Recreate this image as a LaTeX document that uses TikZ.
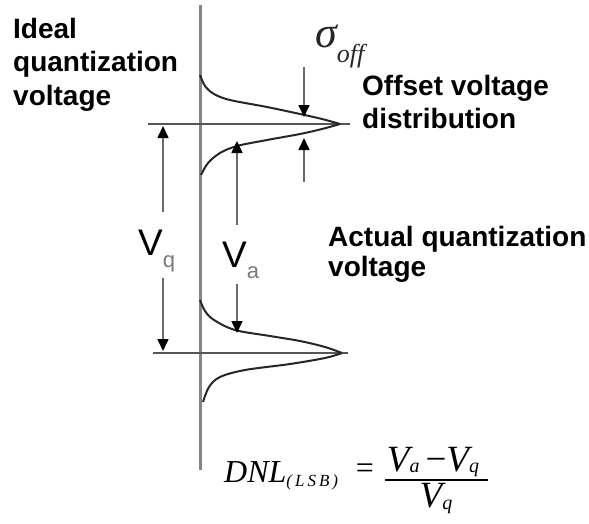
\documentclass[tikz,border=0pt]{standalone}
\usepackage{fontspec}
\newfontfamily\lsans{Liberation Sans}
\newfontfamily\lserif{Liberation Serif}
\usetikzlibrary{arrows.meta}
\definecolor{axisgray}{HTML}{858585}
\definecolor{levelgray}{HTML}{555555}
\definecolor{dimgray}{HTML}{6A6A6A}
\definecolor{subgray}{HTML}{7A7A7A}
\begin{document}
\begin{tikzpicture}[x=1pt,y=-1pt,
  axisline/.style={draw=axisgray,line width=3pt},
  levelline/.style={draw=levelgray,line width=2.5pt},
  distcurve/.style={draw=black!85,line width=2pt,line join=round},
  dimline/.style={draw=dimgray,line width=1.6pt,-{Triangle[length=12pt,width=11pt,color=black]}},
  label/.style={inner sep=0pt,font=\lsans\bfseries\fontsize{28}{33.5}\selectfont,align=left,text=black},
  vlabel/.style={inner sep=0pt,font=\lsans\fontsize{37}{37}\selectfont,text=black},
  formula/.style={inner sep=0pt,font=\lserif\itshape\fontsize{32}{32}\selectfont,text=black}]
\useasboundingbox (0,0) rectangle (589,523);

% axis
\coordinate (axtop) at (200,5);
\coordinate (axbot) at (200,470);
\draw[axisline] (axtop) -- (axbot);

% quantization levels
\coordinate (l1a) at (148,124); \coordinate (l1b) at (350,124);
\coordinate (l2a) at (153,353); \coordinate (l2b) at (348,353);
\draw[levelline] (l1a) -- (l1b);
\draw[levelline] (l2a) -- (l2b);

% top distribution
\draw[distcurve] plot[smooth,tension=0.55] coordinates {(200,75) (205,86) (214,94) (230,100) (267,107) (300,114) (322,119) (340,124)};
\draw[distcurve] plot[smooth,tension=0.55] coordinates {(340,124) (322,129) (300,134) (267,140) (237,146) (220,153) (208,163) (201,175)};

% bottom distribution
\draw[distcurve] plot[smooth,tension=0.55] coordinates {(200,300) (205,311) (214,320) (235,330) (270,336) (300,341) (325,347) (342,353)};
\draw[distcurve] plot[smooth,tension=0.55] coordinates {(342,353) (325,358) (290,364) (245,370) (220,377) (209,387) (203,402)};

% Vq dimension
\coordinate (vqt) at (163,126); \coordinate (vqm1) at (163,212);
\coordinate (vqm2) at (163,278); \coordinate (vqb) at (163,351);
\draw[dimline] (vqm1) -- (vqt);
\draw[dimline] (vqm2) -- (vqb);
\node[vlabel,anchor=base west] (vq) at (138,255) {V\raisebox{-12pt}{\fontsize{22}{22}\selectfont\color{subgray}q}};

% Va dimension
\coordinate (vat) at (237,141); \coordinate (vam1) at (237,225);
\coordinate (vam2) at (237,284); \coordinate (vab) at (237,333);
\draw[dimline] (vam1) -- (vat);
\draw[dimline] (vam2) -- (vab);
\node[vlabel,anchor=base west] (va) at (222,267) {V\raisebox{-11pt}{\fontsize{22}{22}\selectfont\color{subgray}a}};

% sigma dimension
\coordinate (sgu1) at (304,67); \coordinate (sgu2) at (304,117);
\coordinate (sgl1) at (304,182); \coordinate (sgl2) at (304,138);
\draw[dimline] (sgu1) -- (sgu2);
\draw[dimline] (sgl1) -- (sgl2);
\node[inner sep=0pt,anchor=base west,text=black!85,font=\lserif\itshape\fontsize{44}{44}\selectfont] (sigma) at (315,47) {σ\raisebox{-15pt}{\fontsize{26}{26}\selectfont off}};

% texts
\node[label,anchor=north west] (ideal) at (13,18) {Ideal\\quantization\\voltage};
\node[label,anchor=north west] (offset) at (362,75) {Offset voltage\\distribution};
\node[label,anchor=north west,font=\lsans\bfseries\fontsize{28}{30}\selectfont] (actual) at (328,226) {Actual quantization\\voltage};

% formula
\node[formula,anchor=base west] (dnl) at (224,482) {DNL\raisebox{-4pt}{\fontsize{17}{17}\selectfont(\kern3pt L\kern3pt S\kern3pt B\kern3pt)}};
\node[formula,anchor=base,font=\lserif\fontsize{32}{32}\selectfont] (eq) at (365,478) {=};
\coordinate (bara) at (385,480); \coordinate (barb) at (488,480);
\draw[draw=black,line width=1.6pt] (bara) -- (barb);
\node[formula,anchor=base,font=\lserif\itshape\fontsize{37}{37}\selectfont] (num) at (433,471) {V\raisebox{-1pt}{\fontsize{20}{20}\selectfont a}\kern6pt{\upshape −}V\raisebox{-1pt}{\fontsize{20}{20}\selectfont q}};
\node[formula,anchor=base,font=\lserif\itshape\fontsize{37}{37}\selectfont] (den) at (436,507) {V\raisebox{-2pt}{\fontsize{20}{20}\selectfont q}};
\end{tikzpicture}
\end{document}
